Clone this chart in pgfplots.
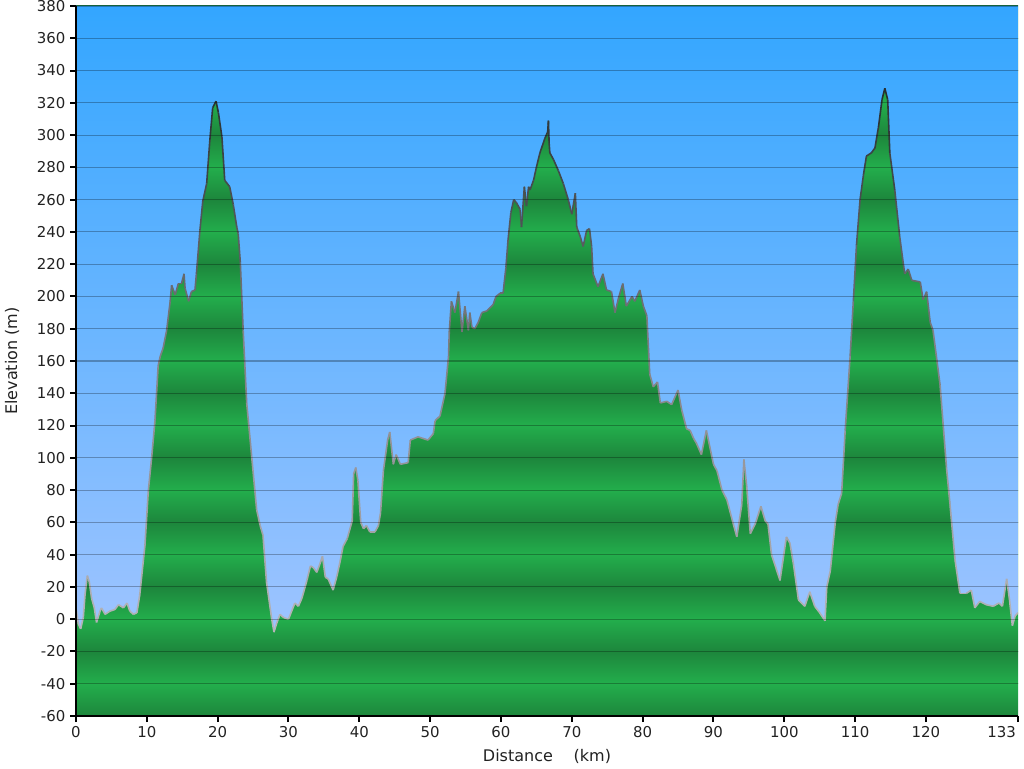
\documentclass[border=0pt]{standalone}
\usepackage{fontspec}
\setmainfont{DejaVu Sans}
\usepackage{pgfplots}
\pgfplotsset{compat=1.18}
\usepackage{pgfplotstable}
\definecolor{skytop}{RGB}{51,166,255}
\definecolor{skylow}{RGB}{158,196,255}
\definecolor{gdark}{RGB}{29,134,60}
\definecolor{glight}{RGB}{35,174,76}
\definecolor{txt}{RGB}{34,34,34}

\pgfplotstableread{
x y
0 7
0.33 -3
0.66 -6
1.03 1
1.27 15
1.6 27
1.88 23
2.2 13
2.58 7
2.9 -2
3.4 5
3.6 7
4.1 3
4.8 5
5.5 6
6.0 9
6.7 7
7.2 10
7.6 5
8.1 3
8.6 4
9.0 15
9.5 36
9.74 46
10.2 79
10.7 101
11.15 123
11.6 157
11.9 163
12.3 168
12.8 179
13.3 197
13.5 207
14.0 201
14.45 208
14.9 208
15.25 214
15.4 205
15.9 197
16.3 203
16.8 204
17.0 214
17.5 241
17.9 259
18.45 270
18.9 297
19.3 317
19.77 321
20.1 314
20.6 299
21.0 272
21.7 268
22.2 257
22.7 243
22.9 239
23.2 221
23.6 179
24.1 134
24.8 101
25.5 68
26.0 58
26.4 52
26.9 23
27.6 1
27.95 -8
28.3 -3
28.8 3
29.3 1
30.0 0
30.45 5
30.9 10
31.4 8
31.9 13
32.6 24
33.1 33
33.5 32
34.0 29
34.5 35
34.8 39
35.2 26
35.6 25
36.1 20
36.3 18
36.8 26
37.3 36
37.7 45
38.3 50
39.0 61
39.2 90
39.5 94
39.8 86
40.2 60
40.6 56
41.0 58
41.5 54
42.2 54
42.7 58
43.0 66
43.4 92
44.0 111
44.3 116
44.8 96
45.2 102
45.8 96
46.9 97
47.2 111
48.3 113
49.0 112
49.7 111
50.45 115
50.7 123
51.4 126
52.1 140
52.6 163
52.7 178
53.0 197
53.5 190
54.0 203
54.5 178
54.9 194
55.4 179
55.6 190
55.9 181
56.3 180
56.8 184
57.3 190
58.0 191
58.9 195
59.3 200
59.9 202
60.3 202
60.7 218
61.0 235
61.4 252
61.8 260
62.2 258
62.7 254
62.9 243
63.3 268
63.6 256
63.9 268
64.1 266
64.6 272
65.0 280
65.5 289
66.2 298
66.6 302
66.7 309
66.8 295
66.9 289
67.4 285
68.1 278
68.8 270
69.5 260
70.0 251
70.5 264
70.7 243
71.2 237
71.6 231
72.1 241
72.5 242
72.8 231
73.0 214
73.7 206
74.4 214
74.9 204
75.6 203
76.1 190
76.6 199
77.2 208
77.7 194
78.5 200
78.9 197
79.6 204
80.1 194
80.6 188
81.0 152
81.5 144
82.1 147
82.5 134
83.4 135
84.1 133
85.0 142
85.5 130
86.2 118
86.7 117
87.2 112
87.6 109
88.3 102
89.0 117
90.0 96
90.5 92
91.2 80
91.9 74
92.8 59
93.3 51
94.0 71
94.3 99
94.7 82
95.2 53
95.9 59
96.7 70
97.3 61
97.7 59
98.2 40
99.4 24
100.3 51
100.8 47
101.3 34
102.0 12
102.9 8
103.6 17
104.3 8
105.0 4
105.75 -1
106.0 20
106.5 30
107.2 60
107.6 71
108.1 78
108.6 117
109.3 163
109.75 197
110.2 232
110.7 260
111.2 276
111.6 287
112.3 289
112.8 292
113.3 305
113.8 322
114.2 329
114.6 322
114.9 289
115.6 266
116.3 237
117.0 214
117.5 217
118.0 210
119.2 209
119.6 198
120.1 203
120.6 184
121.0 179
122.0 145
122.9 94
123.4 71
124.1 37
124.8 16
125.7 16
126.4 18
126.9 7
127.6 11
128.5 9
129.5 8
130.3 10
130.8 8
131.4 25
131.8 12
132.2 -4
132.6 2
133.0 4
}\profile

\begin{document}
\begin{tikzpicture}
\begin{axis}[
  at={(57pt,39pt)}, anchor=south west,
  width=706.5pt, height=532.5pt, scale only axis,
  xmin=0, xmax=133, ymin=-60, ymax=380,
  axis x line*=bottom, axis y line*=left,
  axis line style={black, line width=1.5pt, -},
  xtick={0,10,...,120},
  extra x ticks={133},
  extra x tick style={xticklabel style={anchor=north east, xshift=2pt}},
  ytick={-60,-40,...,380},
  tick align=outside,
  major tick length=4.5pt,
  tick style={black, line width=1.5pt},
  ymajorgrids,
  grid style={black, opacity=0.28, line width=0.8pt},
  axis on top,
  tick label style={font=\fontsize{11.2}{13}\selectfont, text=txt},
  /pgf/number format/assume math mode=true,
  xlabel={Distance\hspace{1.3em}(km)},
  ylabel={Elevation (m)},
  every axis x label/.style={at={(axis description cs:0.5,-0.0577)}, anchor=center,
    font=\fontsize{12}{14}\selectfont, text=txt},
  every axis y label/.style={at={(axis description cs:-0.0679,0.5)}, rotate=90, anchor=center,
    font=\fontsize{12}{14}\selectfont, text=txt},
  clip=true,
]
% green banding of the ground (background decoration)
\pgfplotsinvokeforeach{-60,-20,20,60,100,140,180,220,260,300,340}{
  \shade[bottom color=gdark, top color=glight] (axis cs:-1,#1) rectangle (axis cs:134,#1+20);
  \shade[bottom color=glight, top color=gdark] (axis cs:-1,#1+20) rectangle (axis cs:134,#1+40);
}
% sky above the elevation profile
\addplot[draw=none, top color=skytop, bottom color=skylow]
  table[x=x,y=y] {\profile} |- (axis cs:0,380) -- cycle;
% profile outline
\addplot[mesh, shader=flat, point meta=y, point meta min=-10, point meta max=330,
  colormap={edge}{rgb255=(182,182,186) rgb255=(130,130,135) rgb255=(35,45,45)},
  line width=1.2pt, line join=round] table[x=x,y=y] {\profile};
\end{axis}
\pgfresetboundingbox
\path (0,0) rectangle (768pt,576pt);
\end{tikzpicture}
\end{document}
